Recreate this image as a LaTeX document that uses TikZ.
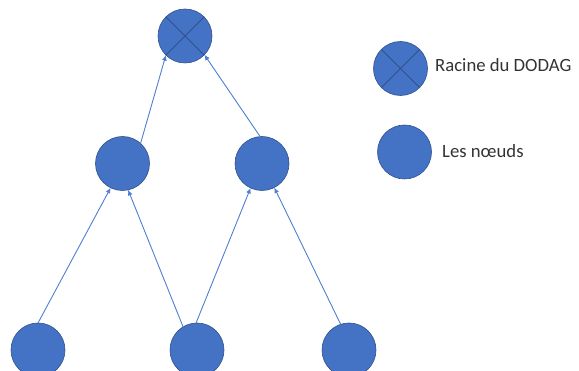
\documentclass[tikz,border=0pt]{standalone}
\usepackage{fontspec}
\setmainfont{Carlito}
\usetikzlibrary{arrows.meta}
\definecolor{nodefill}{HTML}{4472C4}
\definecolor{nodeedge}{HTML}{2F528F}
\definecolor{linkcol}{HTML}{4F7FD0}
\begin{document}
\begin{tikzpicture}[x=1pt,y=-1pt,
  vertex/.style={circle,fill=nodefill,draw=nodeedge,line width=0.6pt,
    minimum size=54pt,inner sep=0pt,outer sep=0pt},
  rootvertex/.style={vertex,
    append after command={
      (\tikzlastnode.45) edge[crossline] (\tikzlastnode.225)
      (\tikzlastnode.135) edge[crossline] (\tikzlastnode.315)}},
  crossline/.style={draw=nodeedge,line width=0.8pt},
  link/.style={draw=linkcol,line width=0.9pt,
    -{Latex[length=5.5pt,width=5pt]}},
  legendtext/.style={font=\fontsize{18.7}{22}\selectfont,anchor=west,
    inner sep=0pt,text=black!80}]
\useasboundingbox (0,0) rectangle (579,371);

% tree of nodes
\node[rootvertex] (root) at (185,36) {};
\node[vertex] (ml) at (122.5,163.5) {};
\node[vertex] (mr) at (262,163.5) {};
\node[vertex] (bl) at (38,350) {};
\node[vertex] (bm) at (197,350) {};
\node[vertex] (br) at (349,350) {};

% links towards the root
\draw[link] (ml.48) -- (root.225);
\draw[link] (mr.94) -- (root.316);
\draw[link] (bl.90) -- (ml.244);
\draw[link] (bm.121) -- (ml.282);
\draw[link] (bm.92) -- (mr.245);
\draw[link] (br.108) -- (mr.297);

% legend
\node[rootvertex] (legroot) at (400.5,68.5) {};
\node[legendtext] (legroottext) at (435,65) {Racine du DODAG};
\node[vertex] (legnode) at (404.5,152) {};
\node[legendtext] (legnodetext) at (442,151) {Les nœuds};
\end{tikzpicture}
\end{document}
